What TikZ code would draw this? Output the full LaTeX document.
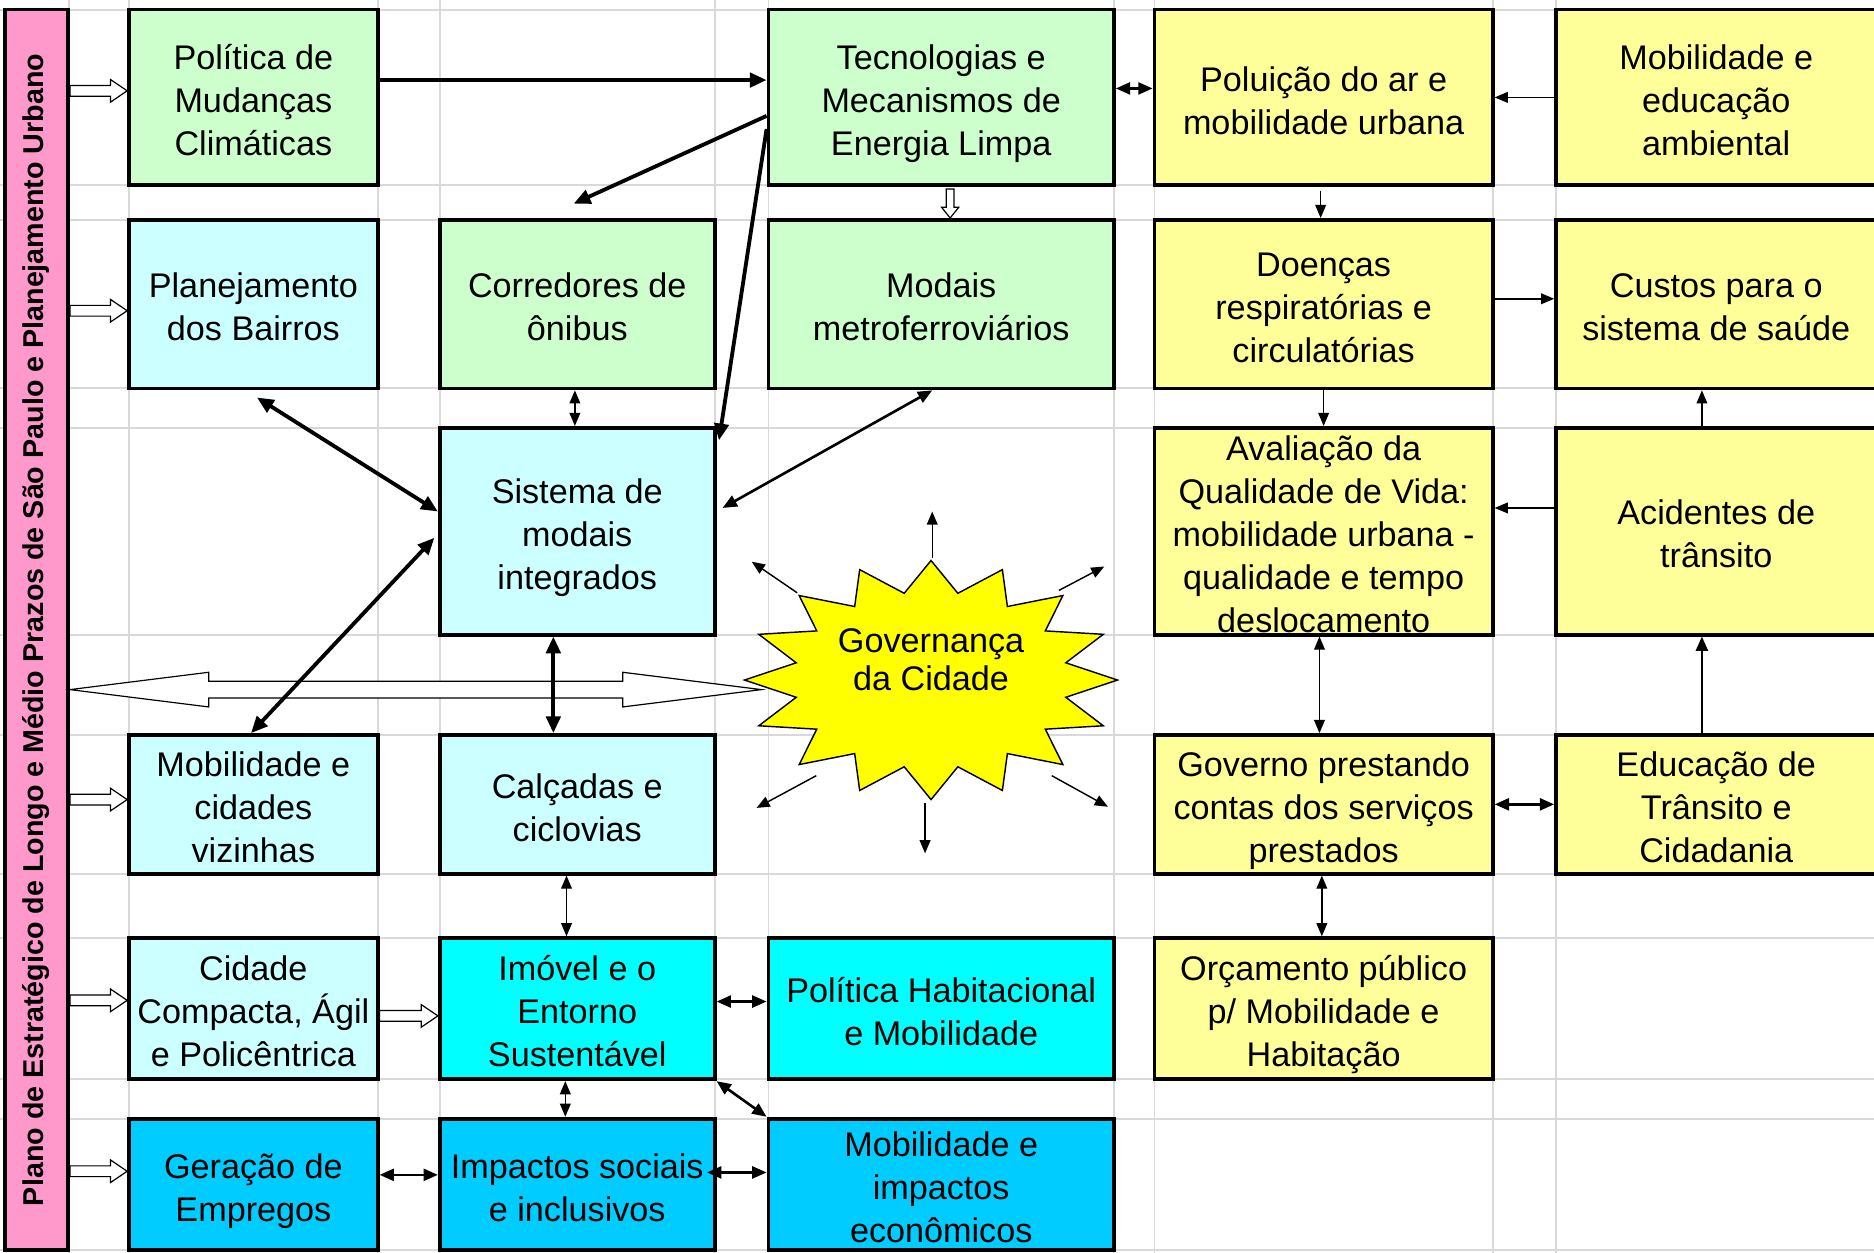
\documentclass[tikz,border=0pt]{standalone}
\usepackage{fontspec}
\setmainfont{Liberation Sans}
\usepackage{xcolor}
\usetikzlibrary{arrows.meta,calc}

\definecolor{lgreen}{HTML}{CCFFCC}
\definecolor{lyellow}{HTML}{FFFF99}
\definecolor{lcyan}{HTML}{CCFFFF}
\definecolor{cyanbox}{HTML}{00FFFF}
\definecolor{bluebox}{HTML}{00CCFF}
\definecolor{staryellow}{HTML}{FFFF00}
\definecolor{barpink}{HTML}{FF99CC}
\definecolor{gridgray}{HTML}{D9D9D9}

\tikzset{
  box/.style={draw, line width=1.6pt, inner sep=0pt, align=center,
    font=\fontsize{14.3}{18}\selectfont},
  % altura do texto conforme o numero de linhas
  L2/.style={text height=33.35pt, text depth=2.65pt},
  L3/.style={text height=51.35pt, text depth=2.65pt},
  L5/.style={text height=85.7pt, text depth=0.8pt},
  colA/.style={minimum width=104pt}, colB/.style={minimum width=115pt},
  colC/.style={minimum width=144.5pt}, colD/.style={minimum width=141.5pt},
  colE/.style={minimum width=134pt},
  row1/.style={minimum height=73.5pt}, row2/.style={minimum height=70.5pt},
  row3/.style={minimum height=86.5pt}, row4/.style={minimum height=58pt},
  row5/.style={minimum height=59pt}, row6/.style={minimum height=55pt},
  gridline/.style={draw=gridgray, line width=0.8pt},
  lean/.style={line width=0.6pt, >={Triangle[length=5.5pt,width=4.5pt]}},
  mid/.style={line width=1.1pt, >={Triangle[length=6pt,width=5pt]}},
  fat/.style={line width=1.6pt, >={Triangle[length=7pt,width=6pt]}},
  % setas vazadas: meia largura da haste, meia largura da ponta, comprimento da ponta
  blockh/.style n args={3}{to path={let \p1=(\tikztostart), \p2=(\tikztotarget) in
    (\x1,\y1+#1) -- (\x2-#3,\y1+#1) -- (\x2-#3,\y1+#2) -- (\x2,\y1)
    -- (\x2-#3,\y1-#2) -- (\x2-#3,\y1-#1) -- (\x1,\y1-#1) -- cycle}},
  blockv/.style n args={3}{to path={let \p1=(\tikztostart), \p2=(\tikztotarget) in
    (\x1+#1,\y1) -- (\x1+#1,\y2+#3) -- (\x1+#2,\y2+#3) -- (\x1,\y2)
    -- (\x1-#2,\y2+#3) -- (\x1-#1,\y2+#3) -- (\x1-#1,\y1) -- cycle}},
  blockboth/.style n args={3}{to path={let \p1=(\tikztostart), \p2=(\tikztotarget) in
    (\x1,\y1) -- (\x1+#3,\y1+#2) -- (\x1+#3,\y1+#1) -- (\x2-#3,\y1+#1) -- (\x2-#3,\y1+#2)
    -- (\x2,\y1) -- (\x2-#3,\y1-#2) -- (\x2-#3,\y1-#1) -- (\x1+#3,\y1-#1) -- (\x1+#3,\y1-#2) -- cycle}},
  hollow/.style={draw, fill=white, line width=0.5pt, blockh={2.25pt}{4.75pt}{7pt}},
  hollowdown/.style={draw, fill=white, line width=0.5pt, blockv={1.6pt}{3.6pt}{4.5pt}},
  hollowbig/.style={draw, fill=white, line width=0.5pt, blockboth={3.5pt}{7.25pt}{58pt}},
}

\begin{document}
\begin{tikzpicture}[x=0.5pt,y=-0.5pt]
	\clip (0,0) rectangle (1568,1048);
	
	% grade da planilha
	\foreach \gx in {58,108,316,368,598,643,932,966,1249,1302}
		\draw[gridline] (\gx,0) -- (\gx,1048);
	\foreach \gy in {8.5,155,184,325,358,531,615,731,785,903,936,1046}
		\draw[gridline] (0,\gy) -- (1568,\gy);
	
	% barra lateral
	\node[draw, line width=1.6pt, fill=barpink, inner sep=0pt, minimum width=26.5pt, minimum height=519pt,
		font=\fontsize{12}{14}\selectfont\bfseries] (bar) at (30.5,527)
		{\rotatebox{90}{Plano de Estratégico de Longo e Médio Prazos de São Paulo e Planejamento Urbano}};
	
	% linha 1
	\node[box, L3, fill=lgreen, colA, row1] (polit) at (212,81.5) {Política de\\Mudanças\\Climáticas};
	\node[box, L3, fill=lgreen, colC, row1] (tecno) at (787.5,81.5) {Tecnologias e\\Mecanismos de\\Energia Limpa};
	\node[box, L2, fill=lyellow, colD, row1] (polu) at (1107.5,81.5) {Poluição do ar e\\mobilidade urbana};
	\node[box, L3, fill=lyellow, colE, row1] (mobed) at (1436,81.5) {Mobilidade e\\educação\\ambiental};
	
	% linha 2
	\node[box, L2, fill=lcyan, colA, row2] (plan) at (212,254.5) {Planejamento\\dos Bairros};
	\node[box, L2, fill=lgreen, colB, row2] (corred) at (483,254.5) {Corredores de\\ônibus};
	\node[box, L2, fill=lgreen, colC, row2] (modais) at (787.5,254.5) {Modais\\metroferroviários};
	\node[box, L3, fill=lyellow, colD, row2] (doen) at (1107.5,254.5) {Doenças\\respiratórias e\\circulatórias};
	\node[box, L2, fill=lyellow, colE, row2] (custos) at (1436,254.5) {Custos para o\\sistema de saúde};
	
	% linha 3
	\node[box, L3, fill=lcyan, colB, row3] (sist) at (483,444.5) {Sistema de\\modais\\integrados};
	\node[box, L5, fill=lyellow, colD, row3] (aval) at (1107.5,444.5)
		{Avaliação da\\Qualidade de Vida:\\mobilidade urbana -\\qualidade e tempo\\deslocamento};
	\node[box, L2, fill=lyellow, colE, row3] (acid) at (1436,444.5) {Acidentes de\\trânsito};
	
	% estrela
	\coordinate (gc) at (779,569);
	\filldraw[fill=staryellow, line width=0.6pt, shift={(gc)}] (0:156 and 100)
		\foreach \a in {0,22.5,...,337.5} { -- ({\a+11.25}:115 and 74) -- ({\a+22.5}:156 and 100) } -- cycle;
	\node[align=center, font=\fontsize{14.3}{15.5}\selectfont] (gover) at (779,552) {Governança\\da Cidade};
	\coordinate (gleft) at (637,577);
	
	% linha 4
	\node[box, L3, fill=lcyan, colA, row4] (mobcid) at (212,673) {Mobilidade e\\cidades\\vizinhas};
	\node[box, L2, fill=lcyan, colB, row4] (calc) at (483,673) {Calçadas e\\ciclovias};
	\node[box, L3, fill=lyellow, colD, row4] (prest) at (1107.5,673) {Governo prestando\\contas dos serviços\\prestados};
	\node[box, L3, fill=lyellow, colE, row4] (educ) at (1436,673) {Educação de\\Trânsito e\\Cidadania};
	
	% linha 5
	\node[box, L3, fill=lcyan, colA, row5] (compac) at (212,844) {Cidade\\Compacta, Ágil\\e Policêntrica};
	\node[box, L3, fill=cyanbox, colB, row5] (imovel) at (483,844) {Imóvel e o\\Entorno\\Sustentável};
	\node[box, L2, fill=cyanbox, colC, row5] (habit) at (787.5,844) {Política Habitacional\\e Mobilidade};
	\node[box, L3, fill=lyellow, colD, row5] (orcam) at (1107.5,844) {Orçamento público\\p/ Mobilidade e\\Habitação};
	
	% linha 6
	\node[box, L2, fill=bluebox, colA, row6] (empreg) at (212,991) {Geração de\\Empregos};
	\node[box, L2, fill=bluebox, colB, row6] (impsoc) at (483,991) {Impactos sociais\\e inclusivos};
	\node[box, L3, fill=bluebox, colC, row6] (impeco) at (787.5,991) {Mobilidade e\\impactos\\econômicos};
	
	% setas vazadas
	\draw[hollow] ([yshift=2.75pt]bar.east |- polit.west) to ([yshift=2.75pt]polit.west);
	\draw[hollow] ([yshift=-2.75pt]bar.east |- plan.west) to ([yshift=-2.75pt]plan.west);
	\draw[hollow] ([yshift=2pt]bar.east |- mobcid.west) to ([yshift=2pt]mobcid.west);
	\draw[hollow] ([yshift=3.5pt]bar.east |- compac.west) to ([yshift=3.5pt]compac.west);
	\draw[hollow] ([yshift=5.5pt]bar.east |- empreg.west) to ([yshift=5.5pt]empreg.west);
	\draw[hollow] ([yshift=-3pt]compac.east) to ([yshift=-3pt]imovel.west);
	\draw[hollowdown] ([xshift=3.75pt,yshift=-0.8pt]tecno.south) to ([xshift=3.75pt]modais.north);
	\draw[hollowbig] (bar.east |- gleft) to (gleft);
	
	% setas da coluna verde/azul
	\draw[fat,->] ([yshift=7.25pt]polit.east) -- ([yshift=7.25pt]tecno.west);
	\draw[fat,->] ([yshift=-7.75pt]tecno.west) -- ([yshift=6pt,xshift=-1.5pt]corred.north);
	\draw[fat,->] ([yshift=-13.25pt]tecno.west) -- ([yshift=-6pt,xshift=1pt]sist.north east);
	\draw[mid,<->] ([yshift=3.75pt]tecno.east) -- ([yshift=3.75pt]polu.west);
	\draw[fat,<->] ([yshift=-3pt,xshift=1.5pt]plan.south) -- ([yshift=8.25pt]sist.west);
	\draw[lean,<->] ([xshift=-1pt]corred.south) -- ([xshift=-1pt]sist.north);
	\draw[mid,<->] ([xshift=-3.75pt]modais.south) -- ([yshift=9.75pt,xshift=2.5pt]sist.east);
	\draw[fat,<->] ([yshift=-2.75pt,xshift=-1.5pt]sist.west) -- ([xshift=-1pt]mobcid.north);
	\draw[fat,<->] ([xshift=-10pt]sist.south) -- ([xshift=-10pt]calc.north);
	\draw[lean,<->] ([xshift=-4.5pt]calc.south) -- ([xshift=-4.5pt]imovel.north);
	\draw[mid,<->] ([yshift=3pt]imovel.east) -- ([yshift=3pt]habit.west);
	\draw[lean,<->] ([xshift=-5pt]imovel.south) -- ([xshift=-5pt]impsoc.north);
	\draw[mid,<->] (imovel.south east) -- (impeco.north west);
	\draw[mid,<->] ([yshift=4pt]empreg.east) -- ([yshift=4pt]impsoc.west);
	\draw[mid,<->] ([yshift=5pt,xshift=-4pt]impsoc.east) -- ([yshift=5pt]impeco.west);
	
	% setas da coluna amarela
	\draw[lean,->] (mobed.west) -- (polu.east);
	\draw[lean,->] ([yshift=-1.5pt,xshift=-1.25pt]polu.south) -- ([xshift=-1.25pt]doen.north);
	\draw[lean,->] ([yshift=2.25pt]doen.east) -- ([yshift=2.25pt]custos.west);
	\draw[lean,->] (doen.south) -- (aval.north);
	\draw[lean,->] ([xshift=-6pt]acid.north) -- ([xshift=-6pt]custos.south);
	\draw[lean,->] ([yshift=9.75pt]acid.west) -- ([yshift=9.75pt]aval.east);
	\draw[lean,<->] ([xshift=-1.75pt]aval.south) -- ([xshift=-1.75pt]prest.north);
	\draw[mid,->] ([xshift=-6pt]educ.north) -- ([xshift=-6pt]acid.south);
	\draw[mid,<->] (prest.east) -- (educ.west);
	\draw[lean,<->] ([xshift=-0.75pt]prest.south) -- ([xshift=-0.75pt]orcam.north);
	
	% raios da governanca
	\draw[lean,->] ([shift={(1,-102)}]gc) -- ([shift={(1,-141)}]gc);
	\draw[lean,->] ([shift={(-112,-73)}]gc) -- ([shift={(-150,-99)}]gc);
	\draw[lean,->] ([shift={(107,-75)}]gc) -- ([shift={(145,-95)}]gc);
	\draw[lean,->] ([shift={(-96,80)}]gc) -- ([shift={(-146,107)}]gc);
	\draw[lean,->] ([shift={(101,80)}]gc) -- ([shift={(148,106)}]gc);
	\draw[lean,->] ([shift={(-5,103)}]gc) -- ([shift={(-5,145)}]gc);
\end{tikzpicture}
\end{document}
